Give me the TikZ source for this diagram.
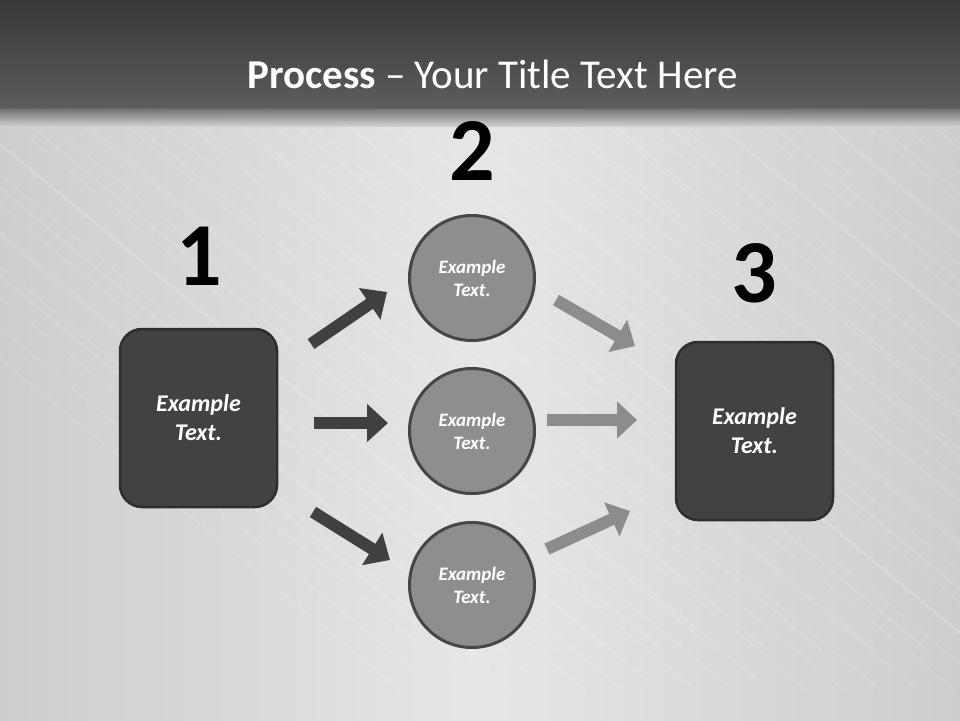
\documentclass[tikz,border=0pt]{standalone}
\usepackage{fontspec}
\setmainfont{Carlito}
\usetikzlibrary{arrows.meta,shapes.geometric}
\definecolor{bgA}{HTML}{CDCDCD}
\definecolor{bgB}{HTML}{E6E6E6}
\definecolor{barTop}{HTML}{383838}
\definecolor{barBot}{HTML}{5C5C5C}
\definecolor{boxFill}{HTML}{424242}
\definecolor{boxLine}{HTML}{2E2E2E}
\definecolor{circFill}{HTML}{8E8E8E}
\definecolor{circLine}{HTML}{464646}
\definecolor{darkArrow}{HTML}{404040}
\definecolor{lightArrow}{HTML}{8C8C8C}
\tikzset{
  stepbox/.style={draw=boxLine, line width=2.5pt, fill=boxFill, rounded corners=22pt,
    minimum width=157pt, minimum height=178pt, inner sep=0pt, text=white,
    font=\fontsize{24}{29}\selectfont\bfseries\itshape, align=center},
  stepcirc/.style={circle, draw=circLine, line width=3pt, fill=circFill,
    minimum size=125pt, inner sep=0pt, text=white,
    font=\fontsize{19}{23}\selectfont\bfseries\itshape, align=center},
  bignum/.style={font=\fontsize{90}{90}\selectfont\bfseries, text=black, anchor=base, inner sep=0pt},
  darr/.style={draw=darkArrow, line width=12pt, -{Triangle[length=21pt,width=37pt]}},
  larr/.style={draw=lightArrow, line width=12pt, -{Triangle[length=20pt,width=36pt]}}
}
\begin{document}
\begin{tikzpicture}[x=1pt,y=-1pt]
\useasboundingbox (0,0) rectangle (960,720);
% background
\shade[shading=axis, shading angle=55, left color=bgA, right color=bgA, middle color=bgB] (0,0) rectangle (960,720);
\begin{scope}
\clip (0,110) rectangle (960,720);
\foreach \i in {0,...,40}{
  \pgfmathsetmacro{\xx}{-300+\i*37}
  \draw[white, opacity=0.14, line width=1.2pt] (\xx,110) -- ++(700,580);
}
\foreach \i in {0,...,30}{
  \pgfmathsetmacro{\xx}{-200+\i*53}
  \draw[white, opacity=0.10, line width=3pt] (\xx,110) -- ++(650,540);
}
\end{scope}
% title bar
\shade[top color=barTop, bottom color=barBot] (0,0) rectangle (960,108);
\shade[top color=barBot!95!white, bottom color=bgA, opacity=0.9] (0,108) rectangle (960,126);
\node[anchor=base, text=white, inner sep=0pt, font=\fontsize{41}{48}\selectfont] (title) at (492.5,88) {{\bfseries Process} – Your Title Text Here};
% numbers
\node[bignum] (n1) at (199,285) {1};
\node[bignum] (n2) at (472,180) {2};
\node[bignum] (n3) at (754,302) {3};
% shapes
\node[stepbox] (b1) at (198.5,418) {Example\\Text.};
\node[stepbox] (b3) at (754.5,431) {Example\\Text.};
\node[stepcirc] (c1) at (472,278) {Example\\Text.};
\node[stepcirc] (c2) at (472,431) {Example\\Text.};
\node[stepcirc] (c3) at (472,585) {Example\\Text.};
% arrow end points
\coordinate (a1s) at (311,344); \coordinate (a1e) at (387,292);
\coordinate (a2s) at (314,423); \coordinate (a2e) at (388,423);
\coordinate (a3s) at (313,512); \coordinate (a3e) at (390,560);
\coordinate (r1s) at (556,300); \coordinate (r1e) at (635,346);
\coordinate (r2s) at (547,420); \coordinate (r2e) at (637,420);
\coordinate (r3s) at (547,549); \coordinate (r3e) at (630,511);
\draw[darr] (a1s) -- (a1e);
\draw[darr] (a2s) -- (a2e);
\draw[darr] (a3s) -- (a3e);
\draw[larr] (r1s) -- (r1e);
\draw[larr] (r2s) -- (r2e);
\draw[larr] (r3s) -- (r3e);
\end{tikzpicture}
\end{document}
